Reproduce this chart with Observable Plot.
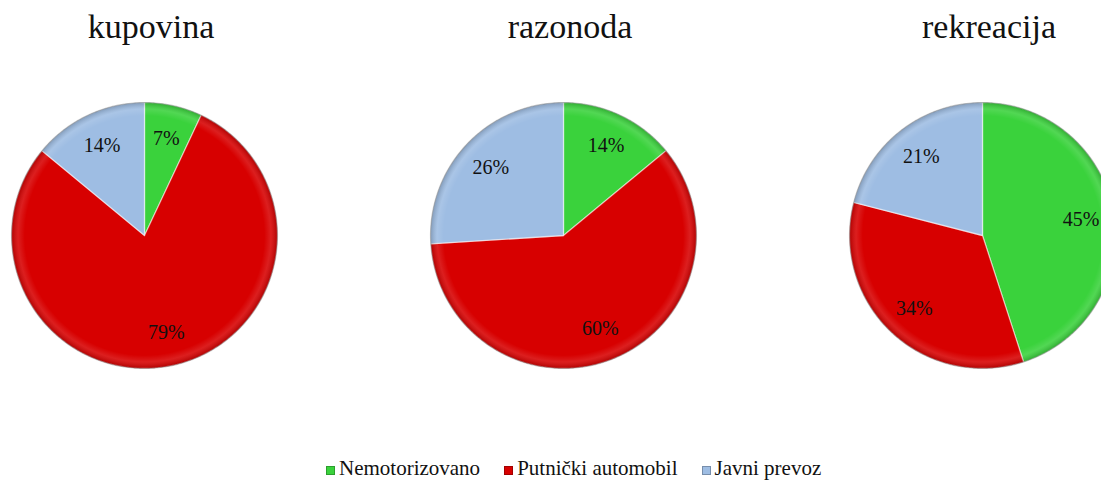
<!DOCTYPE html>
<html>
<head>
<meta charset="utf-8">
<script src="https://cdn.jsdelivr.net/npm/d3@7"></script>
<script src="https://cdn.jsdelivr.net/npm/@observablehq/plot@0.6"></script>
<style>
  html, body { margin: 0; padding: 0; background: #fff; overflow: hidden; }
  #page { position: relative; width: 1101px; height: 481px; overflow: hidden; font-family: "Liberation Serif", serif; color: #111; }
  .chart { position: absolute; top: 0; width: 288px; height: 400px; }
  .title { position: absolute; top: 10px; left: 0; width: 288px; padding-left: 14px; box-sizing: border-box; text-align: center; font-size: 34px; line-height: 34px; white-space: nowrap; }
  .chart svg { position: absolute; top: 80px; left: 0; overflow: visible; }
  #legend { position: absolute; left: 326px; top: 458px; display: flex; align-items: baseline; font-size: 21px; line-height: 21px; white-space: nowrap; }
  .item { display: inline-flex; align-items: baseline; margin-right: 24px; }
  .sw { display: inline-block; width: 9px; height: 9px; margin-right: 4px; box-sizing: border-box; }
</style>
</head>
<body>
<div id="page"></div>
<script>
// ---- data ----
const charts = ["kupovina", "razonoda", "rekreacija"];
const categories = ["Nemotorizovano", "Putnički automobil", "Javni prevoz"];
const kupovina = [7, 79, 14];
const razonoda = [14, 60, 26];
const rekreacija = [45, 34, 21];
const colors = ["#3ad23c", "#d70000", "#9ebde3"];

const values = {kupovina, razonoda, rekreacija};
const page = document.getElementById("page");

charts.forEach((name, ci) => {
  const vals = values[name];
  const arcs = d3.pie().sort(null).value(d => d)(vals);
  const polys = [];
  const labels = [];
  arcs.forEach((a, i) => {
    const key = name + "-" + i;
    polys.push({x: 0, y: 0, cat: categories[i], key});
    const n = Math.max(2, Math.ceil((a.endAngle - a.startAngle) / 0.01));
    for (let k = 0; k <= n; k++) {
      const t = a.startAngle + (a.endAngle - a.startAngle) * k / n;
      polys.push({x: Math.sin(t), y: Math.cos(t), cat: categories[i], key});
    }
    const mid = (a.startAngle + a.endAngle) / 2;
    labels.push({x: 0.75 * Math.sin(mid), y: 0.75 * Math.cos(mid), text: vals[i] + "%"});
  });
  const rim = d3.range(0, 361).map(d => ({x: Math.sin(d * Math.PI / 180), y: Math.cos(d * Math.PI / 180)}));
  const gid = "shade" + ci;

  const svg = Plot.plot({
    width: 288,
    height: 310,
    marginLeft: 11, marginRight: 11, marginTop: 22, marginBottom: 22,
    x: {domain: [-1, 1], axis: null},
    y: {domain: [-1, 1], axis: null},
    color: {domain: categories, range: colors},
    style: {background: "transparent", overflow: "visible"},
    marks: [
      Plot.line(polys, {x: "x", y: "y", z: "key", fill: "cat", stroke: "white", strokeOpacity: 0.5, strokeWidth: 1.3, curve: "linear-closed"}),
      Plot.line(rim, {x: "x", y: "y", fill: `url(#${gid})`, stroke: "#000", strokeOpacity: 0.2, strokeWidth: 1.2, curve: "linear-closed"}),
      Plot.text(labels, {x: "x", y: "y", text: "text", fontSize: 20, fontFamily: "Liberation Serif", fill: "#111"})
    ]
  });

  // radial shading for the bevelled look
  const ns = "http://www.w3.org/2000/svg";
  const defs = document.createElementNS(ns, "defs");
  const rg = document.createElementNS(ns, "radialGradient");
  rg.setAttribute("id", gid);
  rg.setAttribute("cx", "50%"); rg.setAttribute("cy", "50%"); rg.setAttribute("r", "50%");
  [["0%", "#fff", 0], ["90%", "#fff", 0], ["95%", "#fff", 0.12], ["100%", "#000", 0.18]].forEach(([o, c, a]) => {
    const s = document.createElementNS(ns, "stop");
    s.setAttribute("offset", o); s.setAttribute("stop-color", c); s.setAttribute("stop-opacity", a);
    rg.appendChild(s);
  });
  defs.appendChild(rg);
  svg.insertBefore(defs, svg.firstChild);

  const div = document.createElement("div");
  div.className = "chart";
  div.style.left = (ci * 419) + "px";
  const t = document.createElement("div");
  t.className = "title";
  t.textContent = name;
  div.appendChild(t);
  div.appendChild(svg);
  page.appendChild(div);
});

const legend = document.createElement("div");
legend.id = "legend";
categories.forEach((c, i) => {
  const it = document.createElement("span");
  it.className = "item";
  const sw = document.createElement("span");
  sw.className = "sw";
  sw.style.background = colors[i];
  sw.style.border = "1px solid " + d3.color(colors[i]).darker(0.8);
  it.appendChild(sw);
  it.appendChild(document.createTextNode(c));
  legend.appendChild(it);
});
page.appendChild(legend);
</script>
</body>
</html>
